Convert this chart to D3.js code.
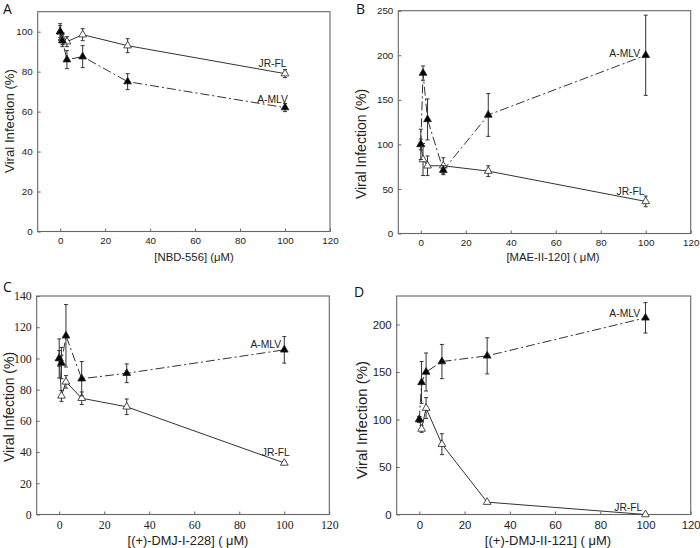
<!DOCTYPE html>
<html>
<head>
<meta charset="utf-8">
<script src="https://cdn.jsdelivr.net/npm/d3@7"></script>
<style>
  html, body { margin: 0; padding: 0; background: #fff; }
  svg { display: block; }
</style>
</head>
<body>
<svg id="chart" width="700" height="548"></svg>
<script>
// ---------------- DATA ----------------
const concentrations = [0, 1, 3, 10, 30, 100];
const xTicks = [0, 20, 40, 60, 80, 100, 120];
const panelLetters = ["A", "B", "C", "D"];
const xAxisTitles = ["[NBD-556] (\u03BCM)", "[MAE-II-120] ( \u03BCM)", "[(+)-DMJ-I-228] ( \u03BCM)", "[(+)-DMJ-II-121] ( \u03BCM)"];
const yAxisTitle = "Viral Infection (%)";
const seriesNames = ["JR-FL", "A-MLV"];

const yMaxA = 110, yTicksA = [0, 20, 40, 60, 80, 100];
const yMaxB = 250, yTicksB = [0, 50, 100, 150, 200, 250];
const yMaxC = 140, yTicksC = [0, 20, 40, 60, 80, 100, 120, 140];
const yMaxD = 230, yTicksD = [0, 50, 100, 150, 200];

// Panel A : NBD-556
const jrflA    = [100, 96.5, 95, 98.5, 93, 79];
const jrflErrA = [3, 3, 2.5, 3, 3.5, 2];
const amlvA    = [100, 95.5, 86, 87.5, 75, 62];
const amlvErrA = [4, 3, 4.5, 5.5, 4, 2];
// Panel B : MAE-II-120
const jrflB    = [100, 83, 76, 76, 70, 36];
const jrflErrB = [6, 18, 11, 9, 6, 6];
const amlvB    = [100, 180, 128, 71, 133, 200];
const amlvErrB = [17, 8, 23, 5, 24, 45];
// Panel C : (+)-DMJ-I-228
const jrflC    = [100, 76, 85, 74.5, 69, 33];
const jrflErrC = [5, 3.5, 4, 4, 5, 1];
const amlvC    = [100, 97, 114.5, 87, 90.5, 105.5];
const amlvErrC = [12.5, 10, 20, 11, 6, 8.5];
// Panel D : (+)-DMJ-II-121
const jrflD    = [100, 90, 112, 74, 13, 0];
const jrflErrD = [3, 3.5, 11, 11, 1, 0.5];
const amlvD    = [100, 139, 150, 161, 167, 207];
const amlvErrD = [3, 22, 20, 18, 19, 16];

// ---------------- LAYOUT ----------------
const serif = "Liberation Serif, Times New Roman, serif";
const sans = "Liberation Sans, Arial, sans-serif";
const panels = [
  { letter: panelLetters[0], xTitle: xAxisTitles[0], yMax: yMaxA, yTicks: yTicksA,
    jr: jrflA, jrErr: jrflErrA, am: amlvA, amErr: amlvErrA,
    l: 37.7, r: 330, t: 11.7, b: 231.5, tickFont: sans, tickSize: 9.8,
    titleSize: 11.3, yTitleSize: 13.2,
    letterPos: [3, 14], yTitlePos: [14, 121], xTitlePos: [194, 257],
    jrLabel: [272.5, 63], amLabel: [272.5, 99] },
  { letter: panelLetters[1], xTitle: xAxisTitles[1], yMax: yMaxB, yTicks: yTicksB,
    jr: jrflB, jrErr: jrflErrB, am: amlvB, amErr: amlvErrB,
    l: 398.3, r: 690.7, t: 10.7, b: 233.5, tickFont: sans, tickSize: 9.8,
    titleSize: 11.3, yTitleSize: 14,
    letterPos: [356, 14], yTitlePos: [366, 144], xTitlePos: [553, 257],
    jrLabel: [630.5, 191], amLabel: [624.7, 53.3] },
  { letter: panelLetters[2], xTitle: xAxisTitles[2], yMax: yMaxC, yTicks: yTicksC,
    jr: jrflC, jrErr: jrflErrC, am: amlvC, amErr: amlvErrC,
    l: 36.7, r: 329.3, t: 296, b: 514.5, tickFont: serif, tickSize: 11.8,
    titleSize: 12.8, yTitleSize: 14,
    letterPos: [3, 292], yTitlePos: [14, 407], xTitlePos: [188, 540],
    jrLabel: [275.8, 452.7], amLabel: [265.8, 344] },
  { letter: panelLetters[3], xTitle: xAxisTitles[3], yMax: yMaxD, yTicks: yTicksD,
    jr: jrflD, jrErr: jrflErrD, am: amlvD, amErr: amlvErrD,
    l: 396.7, r: 690.7, t: 296, b: 514.5, tickFont: sans, tickSize: 11.4,
    titleSize: 13, yTitleSize: 15,
    letterPos: [354, 297], yTitlePos: [367, 420], xTitlePos: [548, 540],
    jrLabel: [628.3, 507.7], amLabel: [624.7, 313.3] }
];

const svg = d3.select("#chart");
const frameColor = "#666";
const inkColor = "#222";

panels.forEach(p => {
  const x = d3.scaleLinear().domain([-10, 120]).range([p.l, p.r]);
  const y = d3.scaleLinear().domain([0, p.yMax]).range([p.b, p.t]);
  const g = svg.append("g");

  // frame
  g.append("rect")
    .attr("x", p.l).attr("y", p.t)
    .attr("width", p.r - p.l).attr("height", p.b - p.t)
    .attr("fill", "none").attr("stroke", frameColor).attr("stroke-width", 1.1);

  // x axis (inward ticks)
  const xa = g.append("g").attr("transform", `translate(0,${p.b})`)
    .call(d3.axisBottom(x).tickValues(xTicks).tickSizeInner(-3).tickSizeOuter(0).tickPadding(6));
  xa.select(".domain").remove();
  xa.selectAll(".tick line").attr("stroke", frameColor);
  xa.selectAll(".tick text").attr("fill", inkColor)
    .style("font-family", p.tickFont).style("font-size", p.tickSize + "px");

  // y axis (inward ticks)
  const ya = g.append("g").attr("transform", `translate(${p.l},0)`)
    .call(d3.axisLeft(y).tickValues(p.yTicks).tickSizeInner(-3).tickSizeOuter(0).tickPadding(5));
  ya.select(".domain").remove();
  ya.selectAll(".tick line").attr("stroke", frameColor);
  ya.selectAll(".tick text").attr("fill", inkColor)
    .style("font-family", p.tickFont).style("font-size", p.tickSize + "px");

  // titles
  g.append("text").text(p.xTitle)
    .attr("x", p.xTitlePos[0]).attr("y", p.xTitlePos[1])
    .attr("text-anchor", "middle").attr("dominant-baseline", "central")
    .attr("fill", inkColor).style("font-family", sans).style("font-size", p.titleSize + "px");
  g.append("text").text(yAxisTitle)
    .attr("transform", `translate(${p.yTitlePos[0]},${p.yTitlePos[1]}) rotate(-90)`)
    .attr("text-anchor", "middle")
    .attr("fill", inkColor).style("font-family", sans).style("font-size", p.yTitleSize + "px");
  g.append("text").text(p.letter)
    .attr("x", p.letterPos[0]).attr("y", p.letterPos[1])
    .attr("fill", "#111").style("font-family", "Open Sans, sans-serif").style("font-size", "14px");

  const series = [
    { vals: p.jr, err: p.jrErr, dash: null, fill: "#fff", label: seriesNames[0], lp: p.jrLabel },
    { vals: p.am, err: p.amErr, dash: "9,3,2,3", fill: "#000", label: seriesNames[1], lp: p.amLabel }
  ];

  series.forEach(s => {
    const pts = concentrations.map((c, i) => ({ c, v: s.vals[i], e: s.err[i] }));
    // line
    g.append("path").datum(pts)
      .attr("d", d3.line().x(d => x(d.c)).y(d => y(d.v)))
      .attr("fill", "none").attr("stroke", "#333").attr("stroke-width", 1)
      .attr("stroke-dasharray", s.dash);
    // error bars
    const eb = g.append("g").attr("stroke", "#333").attr("stroke-width", 1);
    pts.forEach(d => {
      const cx = x(d.c), y1 = y(d.v + d.e), y2 = y(Math.max(0, d.v - d.e));
      eb.append("line").attr("x1", cx).attr("x2", cx).attr("y1", y1).attr("y2", y2);
      eb.append("line").attr("x1", cx - 2).attr("x2", cx + 2).attr("y1", y1).attr("y2", y1);
      eb.append("line").attr("x1", cx - 2).attr("x2", cx + 2).attr("y1", y2).attr("y2", y2);
    });
    // markers
    g.append("g").selectAll("path").data(pts).join("path")
      .attr("transform", d => `translate(${x(d.c)},${y(d.v)})`)
      .attr("d", d3.symbol(d3.symbolTriangle, 26))
      .attr("fill", s.fill).attr("stroke", "#222").attr("stroke-width", 0.8);
    // label
    g.append("text").text(s.label)
      .attr("x", s.lp[0]).attr("y", s.lp[1])
      .attr("text-anchor", "middle").attr("dominant-baseline", "central")
      .attr("fill", inkColor).style("font-family", sans).style("font-size", "10.3px");
  });
});
</script>
</body>
</html>
